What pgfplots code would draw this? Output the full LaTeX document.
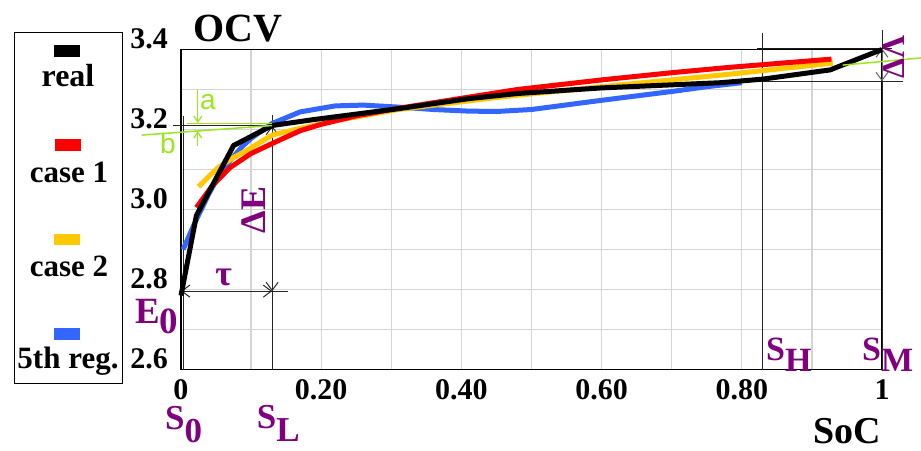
\documentclass[border=0pt]{standalone}
\usepackage{fontspec}
\setmainfont{Liberation Serif}
\newfontfamily\sansf{Liberation Sans}
\usepackage{pgfplots}
\pgfplotsset{compat=1.18}
\usetikzlibrary{arrows.meta}
\definecolor{cred}{RGB}{255,0,0}
\definecolor{cyel}{RGB}{255,200,0}
\definecolor{cblue}{RGB}{51,102,255}
\definecolor{cgreen}{RGB}{155,230,30}
\definecolor{cpurp}{RGB}{128,0,128}
\definecolor{cgrid}{RGB}{212,212,212}
\newcommand\fs[1]{\fontsize{#1}{#1}\selectfont\bfseries}
\tikzset{barb/.style={{Straight Barb[length=8pt,width=12pt]}-{Straight Barb[length=8pt,width=12pt]}},
         gbarb/.style={-{Straight Barb[length=6pt,width=8pt]}}}
\begin{document}
\begin{tikzpicture}
\useasboundingbox (-181pt,-80.5pt) rectangle (740pt,369.5pt);
\begin{axis}[
  at={(0pt,0pt)}, anchor=south west,
  scale only axis, width=701pt, height=320pt,
  xmin=0, xmax=1, ymin=2.6, ymax=3.4,
  xtick={0,0.2,0.4,0.6,0.8,1},
  xticklabels={\textbf{0},\textbf{0.20},\textbf{0.40},\textbf{0.60},\textbf{0.80},\textbf{1}},
  ytick={2.6,2.8,3.0,3.2,3.4},
  yticklabels={\textbf{2.6},\textbf{2.8},\textbf{3.0},\textbf{3.2},\textbf{3.4}},
  minor xtick={0.1,0.3,0.5,0.7,0.9}, minor ytick={2.7,2.9,3.1,3.3},
  grid=both, grid style={cgrid, line width=1.2pt}, minor grid style={cgrid, line width=1.2pt},
  major tick length=0pt, minor tick length=0pt,
  axis line style={black, line width=1.5pt},
  tick label style={font=\fs{30}, inner sep=1pt},
  yticklabel style={yshift=10.5pt, xshift=-12pt},
  xticklabel style={inner sep=0pt, yshift=-9.5pt},
  clip=false,
]
% annotation lines (under curves)
\draw[black!85, line width=1pt] (axis cs:0.004,3.234) -- (axis cs:0.004,2.6);
\draw[black!85, line width=1pt] (axis cs:0.13,3.236) -- (axis cs:0.13,2.6);
\draw[black!85, line width=1pt] (axis cs:0.83,3.441) -- (axis cs:0.83,2.6);
\draw[black!85, line width=1pt] (axis cs:1.0,3.449) -- (axis cs:1.0,2.6);
\draw[black!85, line width=1pt] (axis cs:-0.0114,3.209) -- (axis cs:0.13,3.209);
\draw[black!85, line width=1pt] (axis cs:0.0,2.796) -- (axis cs:0.153,2.796);
\draw[black!85, line width=1pt, barb] (axis cs:0.0,2.796) -- (axis cs:0.13,2.796);
\draw[black!85, line width=1pt, barb] (axis cs:0.13,2.796) -- (axis cs:0.13,3.209);
\draw[black!90, line width=1.3pt] (axis cs:0.8215,3.4025) -- (axis cs:1.0143,3.4025);
\draw[black!85, line width=1pt] (axis cs:0.74,3.321) -- (axis cs:1.03,3.321);
\draw[black!60, line width=1pt, barb] (axis cs:1.0,3.321) -- (axis cs:1.0,3.4025);
% curves
\addplot[cblue, line width=5pt, line join=round] coordinates {
(0.003,2.90) (0.02,2.968) (0.04,3.04) (0.053,3.082) (0.07,3.122) (0.087,3.157) (0.1,3.178)
(0.13,3.215) (0.17,3.244) (0.22,3.259) (0.26,3.261) (0.31,3.256) (0.36,3.250)
(0.41,3.246) (0.45,3.245) (0.50,3.250) (0.60,3.273) (0.70,3.295) (0.75,3.307) (0.80,3.317)};
\addplot[cyel, line width=5pt, line join=round] coordinates {
(0.025,3.057) (0.053,3.105) (0.075,3.130) (0.096,3.150) (0.13,3.186) (0.17,3.203)
(0.22,3.222) (0.31,3.250) (0.455,3.281) (0.60,3.307) (0.77,3.336) (0.93,3.366)};
\addplot[cred, line width=5pt, line join=round] coordinates {
(0.022,3.005) (0.045,3.060) (0.07,3.105) (0.10,3.140) (0.13,3.165) (0.17,3.197)
(0.20,3.213) (0.25,3.234) (0.31,3.253) (0.40,3.278) (0.48,3.300) (0.60,3.324)
(0.70,3.342) (0.78,3.355) (0.928,3.376)};
\addplot[black, line width=5pt, line join=round] coordinates {
(0.0,2.785) (0.022,2.985) (0.075,3.160) (0.13,3.210) (0.19,3.225) (0.31,3.252)
(0.41,3.277) (0.48,3.290) (0.60,3.304) (0.77,3.317) (0.83,3.326) (0.926,3.349) (1.0,3.400)};
% green annotations
\draw[cgreen, line width=1.5pt] (axis cs:0.0086,3.2155) -- (axis cs:0.13,3.2155);
\draw[cgreen, line width=1.5pt] (axis cs:-0.056,3.186) -- (axis cs:0.13,3.210);
\draw[cgreen, line width=1.5pt] (axis cs:0.944,3.361) -- (axis cs:1.056,3.379);
\draw[cgreen, line width=1.2pt, gbarb] (axis cs:0.024,3.299) -- (axis cs:0.024,3.216);
\draw[cgreen, line width=1.2pt, gbarb] (axis cs:0.024,3.160) -- (axis cs:0.024,3.196);
\node[text=cgreen, font=\sansf\fontsize{28}{28}\selectfont, inner sep=0] at (axis cs:0.0385,3.269) {a};
\node[text=cgreen, font=\sansf\fontsize{28}{28}\selectfont, inner sep=0] at (axis cs:-0.0185,3.166) {b};
% purple labels
\node[anchor=base west, inner sep=0, text=cpurp, font=\fs{35}] at (axis cs:-0.0228,2.449) {S\raisebox{-13pt}{0}};
\node[anchor=base west, inner sep=0, text=cpurp, font=\fs{35}] at (axis cs:0.108,2.452) {S\raisebox{-13pt}{L}};
\node[anchor=base west, inner sep=0, text=cpurp, font=\fs{34}] at (axis cs:0.8345,2.622) {S\raisebox{-11pt}{H}};
\node[anchor=base west, inner sep=0, text=cpurp, font=\fs{34}] at (axis cs:0.9715,2.622) {S\raisebox{-11pt}{M}};
\node[anchor=base west, inner sep=0, text=cpurp, font=\fs{37}] at (axis cs:-0.0656,2.716) {E\raisebox{-10pt}{0}};
\node[inner sep=0, text=cpurp, font=\fs{36}] at (axis cs:0.061,2.829) {τ};
\node[inner sep=0, text=cpurp, font=\fs{36}, rotate=90] at (axis cs:0.103,2.999) {ΔE};
\node[inner sep=0, text=cpurp, font=\fs{32}, rotate=90] at (axis cs:1.017,3.381) {ΔΛ};
% titles
\node[anchor=base, inner sep=0, font=\fs{40}] at (axis cs:0.0813,3.419) {OCV};
\node[anchor=base, inner sep=0, font=\fs{38}] at (axis cs:0.950,2.416) {SoC};
\end{axis}
% legend
\draw[line width=1pt] (-166pt,-13.5pt) rectangle (-58pt,336.5pt);
\node[inner sep=0] at (-114pt,318.5pt) {\textcolor{black}{\rule{26pt}{12pt}}};
\node[inner sep=0] at (-113pt,224pt) {\textcolor{cred}{\rule{26pt}{12pt}}};
\node[inner sep=0] at (-114pt,130pt) {\textcolor{cyel}{\rule{26pt}{12pt}}};
\node[inner sep=0] at (-114pt,35.5pt) {\textcolor{cblue}{\rule{26pt}{12pt}}};
\node[anchor=base, inner sep=0, font=\fs{32}] at (-113pt,282.5pt) {real};
\node[anchor=base, inner sep=0, font=\fs{31}] at (-112pt,186.5pt) {case 1};
\node[anchor=base, inner sep=0, font=\fs{31}] at (-112pt,92.5pt) {case 2};
\node[anchor=base, inner sep=0, font=\fs{31}] at (-113pt,1.5pt) {5th reg.};
\end{tikzpicture}
\end{document}
